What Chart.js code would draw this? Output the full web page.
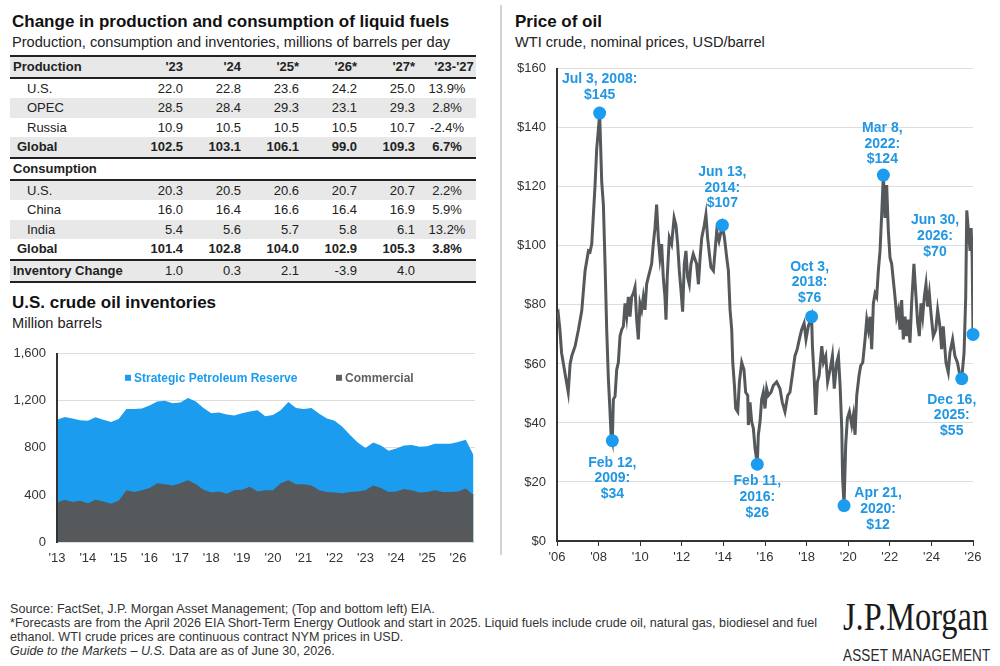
<!DOCTYPE html>
<html>
<head>
<meta charset="utf-8">
<title>Liquid fuels and oil prices</title>
<script src="https://cdn.jsdelivr.net/npm/chart.js@4.4.1/dist/chart.umd.min.js"></script>
<style>
    body { margin: 0; width: 1000px; height: 666px; position: relative; overflow: hidden; background: #fff;
           font-family: "Liberation Sans", Arial, sans-serif; color: #1a1a1a; }
    .abs { position: absolute; white-space: nowrap; }
    .title { font-weight: bold; font-size: 17px; line-height: 17px; color: #111; }
    .sub { font-size: 14.6px; line-height: 15px; color: #222; }
    #fuelTable { position: absolute; left: 10px; top: 55px; width: 466px; font-size: 13px; color: #222;
                 border-top: 2px solid #222; }
    .row { position: relative; height: 19.6px; line-height: 19.6px; }
    .row.gray { background: #e8e8e8; }
    .row.rule { border-bottom: 2px solid #222; }
    .row.bold { font-weight: bold; }
    .row span { position: absolute; top: 0; }
    .row span.lab { font-weight: bold; }
    #divider { position: absolute; left: 500px; top: 5px; width: 1.5px; height: 550px; background: #d3d3d3; }
    #footer { left: 10px; top: 602px; font-size: 12.6px; line-height: 14px; color: #333; }
    #logo1 { left: 843px; top: 597px; font-family: "Liberation Serif", "Times New Roman", serif; font-size: 39px;
             line-height: 40px; color: #1a1a1a; transform: scaleX(0.83); transform-origin: left top; }
    #logo2 { left: 843px; top: 648px; font-size: 16px; line-height: 16px; color: #2a2a2a; letter-spacing: 0.2px;
             transform: scaleX(0.845); transform-origin: left top; }
</style>
</head>
<body>

<div class="abs title" style="left:12px; top:13px;">Change in production and consumption of liquid fuels</div>
<div class="abs sub" style="left:12px; top:35px;">Production, consumption and inventories, millions of barrels per day</div>
<div id="fuelTable"></div>

<div class="abs title" style="left:12px; top:294px;">U.S. crude oil inventories</div>
<div class="abs sub" style="left:12px; top:316px;">Million barrels</div>
<canvas id="invChart" class="abs" width="500" height="240" style="left:0; top:335px;"></canvas>

<div id="divider"></div>

<div class="abs title" style="left:515px; top:13px;">Price of oil</div>
<div class="abs sub" style="left:515px; top:35px;">WTI crude, nominal prices, USD/barrel</div>
<canvas id="oilChart" class="abs" width="490" height="520" style="left:505px; top:50px;"></canvas>

<div id="footer" class="abs">
    Source: FactSet, J.P. Morgan Asset Management; (Top and bottom left) EIA.<br>
    *Forecasts are from the April 2026 EIA Short-Term Energy Outlook and start in 2025. Liquid fuels include crude oil, natural gas, biodiesel and fuel<br>
    ethanol. WTI crude prices are continuous contract NYM prices in USD.<br>
    <i>Guide to the Markets – U.S.</i> Data are as of June 30, 2026.
</div>
<div id="logo1" class="abs">J.P.Morgan</div>
<div id="logo2" class="abs">ASSET MANAGEMENT</div>

<script>
// ---- table data ----
var tableHeads = ["'23", "'24", "'25*", "'26*", "'27*", "'23-'27"];
var productionRows = [
    ["U.S.", "22.0", "22.8", "23.6", "24.2", "25.0", "13.9%"],
    ["OPEC", "28.5", "28.4", "29.3", "23.1", "29.3", "2.8%"],
    ["Russia", "10.9", "10.5", "10.5", "10.5", "10.7", "-2.4%"]
];
var productionGlobal = ["Global", "102.5", "103.1", "106.1", "99.0", "109.3", "6.7%"];
var consumptionRows = [
    ["U.S.", "20.3", "20.5", "20.6", "20.7", "20.7", "2.2%"],
    ["China", "16.0", "16.4", "16.6", "16.4", "16.9", "5.9%"],
    ["India", "5.4", "5.6", "5.7", "5.8", "6.1", "13.2%"]
];
var consumptionGlobal = ["Global", "101.4", "102.8", "104.0", "102.9", "105.3", "3.8%"];
var inventoryChange = ["Inventory Change", "1.0", "0.3", "2.1", "-3.9", "4.0", ""];

// ---- U.S. crude inventories, million barrels (quarterly reads) ----
var invYears = [2013.00, 2013.25, 2013.50, 2013.75, 2014.00, 2014.25, 2014.50, 2014.75,
    2015.00, 2015.25, 2015.50, 2015.75, 2016.00, 2016.25, 2016.50, 2016.75,
    2017.00, 2017.25, 2017.50, 2017.75, 2018.00, 2018.25, 2018.50, 2018.75,
    2019.00, 2019.25, 2019.50, 2019.75, 2020.00, 2020.25, 2020.50, 2020.75,
    2021.00, 2021.25, 2021.50, 2021.75, 2022.00, 2022.25, 2022.50, 2022.75,
    2023.00, 2023.25, 2023.50, 2023.75, 2024.00, 2024.25, 2024.50, 2024.75,
    2025.00, 2025.25, 2025.50, 2025.75, 2026.00, 2026.25, 2026.50];
var totalStocks = [1040, 1062, 1050, 1035, 1030, 1060, 1040, 1020,
    1045, 1130, 1130, 1135, 1160, 1195, 1200, 1180,
    1185, 1225, 1195, 1140, 1095, 1100, 1085, 1075,
    1095, 1110, 1120, 1070, 1080, 1120, 1190, 1140,
    1130, 1140, 1090, 1050, 1030, 980, 910, 845,
    800, 845, 820, 775, 795, 820, 825, 810,
    815, 835, 835, 835, 850, 870, 740];
var commercialStocks = [335, 360, 340, 350, 330, 360, 345, 325,
    350, 440, 425, 440, 460, 500, 490, 480,
    500, 525, 490, 445, 420, 430, 410, 440,
    445, 470, 430, 440, 440, 500, 525, 490,
    490, 480, 440, 425, 420, 415, 425, 430,
    440, 480, 460, 425, 430, 450, 440, 420,
    425, 440, 425, 425, 430, 455, 400];
var invTickYears = [2013, 2014, 2015, 2016, 2017, 2018, 2019, 2020, 2021, 2022, 2023, 2024, 2025, 2026];
var invTickValues = [0, 400, 800, 1200, 1600];

// ---- WTI price, USD/barrel, positions along the chart's year axis ----
var priceX = [2006.00, 2006.06, 2006.14, 2006.22, 2006.38, 2006.54, 2006.63, 2006.71, 2006.87,
    2007.03, 2007.19, 2007.35, 2007.51, 2007.59, 2007.67, 2007.75, 2007.83, 2007.91, 2007.99,
    2008.05, 2008.15, 2008.23, 2008.31, 2008.39, 2008.47, 2008.52, 2008.60, 2008.66, 2008.71,
    2008.79, 2008.87, 2008.95, 2009.03, 2009.11, 2009.19, 2009.27, 2009.35, 2009.43, 2009.51,
    2009.59, 2009.67, 2009.75, 2009.83, 2009.91, 2009.99, 2010.07, 2010.15, 2010.23, 2010.31,
    2010.39, 2010.47, 2010.55, 2010.63, 2010.71, 2010.79, 2010.87, 2010.95, 2011.03, 2011.11,
    2011.19, 2011.24, 2011.30, 2011.40, 2011.51, 2011.63, 2011.72, 2011.80, 2011.88, 2011.96,
    2012.04, 2012.12, 2012.20, 2012.28, 2012.36, 2012.44, 2012.55, 2012.71, 2012.80, 2012.88,
    2012.96, 2013.08, 2013.16, 2013.24, 2013.31, 2013.40, 2013.52, 2013.60, 2013.68, 2013.79,
    2013.95, 2014.05, 2014.16, 2014.24, 2014.32, 2014.40, 2014.45, 2014.53, 2014.59, 2014.69,
    2014.77, 2014.88, 2014.99, 2015.07, 2015.17, 2015.20, 2015.28, 2015.36, 2015.44, 2015.52,
    2015.63, 2015.68, 2015.76, 2015.84, 2015.92, 2016.00, 2016.08, 2016.16, 2016.29, 2016.40,
    2016.56, 2016.72, 2016.83, 2016.96, 2017.09, 2017.20, 2017.33, 2017.44, 2017.55, 2017.65,
    2017.76, 2017.88, 2017.97, 2018.08, 2018.24, 2018.28, 2018.36, 2018.44, 2018.52, 2018.60,
    2018.73, 2018.81, 2018.92, 2019.01, 2019.13, 2019.24, 2019.33, 2019.45, 2019.53, 2019.61,
    2019.69, 2019.73, 2019.80, 2019.88, 2019.96, 2020.06, 2020.17, 2020.25, 2020.33, 2020.41,
    2020.52, 2020.60, 2020.70, 2020.81, 2020.89, 2020.97, 2021.05, 2021.13, 2021.21, 2021.29,
    2021.37, 2021.45, 2021.53, 2021.61, 2021.69, 2021.77, 2021.85, 2021.93, 2022.01, 2022.09,
    2022.17, 2022.25, 2022.33, 2022.41, 2022.49, 2022.57, 2022.65, 2022.73, 2022.81, 2022.89,
    2022.97, 2023.05, 2023.16, 2023.26, 2023.34, 2023.42, 2023.50, 2023.58, 2023.66, 2023.74,
    2023.82, 2023.90, 2023.98, 2024.09, 2024.21, 2024.30, 2024.41, 2024.49, 2024.57, 2024.70,
    2024.81, 2024.89, 2025.02, 2025.13, 2025.25, 2025.34, 2025.46, 2025.57, 2025.65, 2025.70,
    2025.78, 2025.86, 2025.91, 2025.96, 2026.00];
var priceY = [76, 77, 71.6, 63.8, 57, 50.4, 60, 62.7, 66,
    71.6, 78, 91.6, 98.3, 98, 100.6, 110.6, 120.6, 133, 139.5,
    145, 121.7, 114, 93.9, 71.6, 55, 48, 36, 34, 48,
    49, 58, 60.5, 69.4, 71.6, 72.7, 80.5, 76, 82.7, 76,
    82.7, 83.9, 86, 75, 68.3, 80.5, 78.3, 82.7, 78.3, 87,
    89.4, 91.6, 93.9, 100.6, 106, 114, 102.8, 96, 100.6, 89.4,
    82.7, 75, 89.4, 102.8, 100.6, 109.5, 107, 100.6, 91.6, 85,
    77.7, 93.9, 98.3, 89.4, 87, 93.9, 97.2, 93.9, 87, 96,
    102.8, 107, 110.6, 102.8, 98.3, 92.8, 91.6, 98.3, 105, 101.7,
    107, 102.8, 96, 91.6, 78.3, 71.6, 60.5, 52.7, 44.9, 43.8,
    53.9, 60.5, 58, 50.4, 49.3, 39.3, 47, 40.4, 38.2, 31.5,
    26, 36, 40.4, 48, 50.4, 44.9, 51.6, 49.3, 50.4, 52.7,
    53.9, 51.6, 47, 43.8, 49.3, 50.4, 57, 62.7, 65, 68.3,
    71.6, 73.8, 68.3, 72.7, 76, 66, 56, 42.7, 53.9, 56,
    66, 60.5, 62.7, 53.9, 58, 62.7, 51.6, 60.5, 62.7, 52.7,
    38.2, 21.5, 12, 32.6, 41.5, 43.8, 39.3, 42.7, 36, 49.3,
    56, 59.4, 60.5, 68.3, 75, 71.6, 76, 65, 80.5, 83.9,
    82.7, 91.6, 98.3, 110.6, 124, 109.5, 120.6, 105, 96, 93.9,
    88.3, 82.7, 76, 78.3, 71.6, 81.6, 68.3, 76, 69.4, 75,
    67.2, 80.5, 93.9, 82.7, 73.8, 69.4, 80.5, 76, 82.7, 87,
    79.4, 83.9, 77.2, 69.4, 71.6, 78.3, 72.7, 65, 72.7, 60.5,
    57.2, 63.8, 68.3, 62.7, 60.5, 57.2, 55, 63.8, 82.7, 112,
    105, 98.3, 106, 96, 70];
var priceTickYears = [2006, 2008, 2010, 2012, 2014, 2016, 2018, 2020, 2022, 2024, 2026];

// highlighted points
var annoX = [2008.05, 2008.66, 2013.95, 2015.63, 2018.24, 2019.80, 2021.69, 2025.46, 2026.00];
var annoY = [145, 34, 107, 26, 76, 12, 124, 55, 70];
var annoText = [
    ["Jul 3, 2008:", "$145"],
    ["Feb 12,", "2009:", "$34"],
    ["Jun 13,", "2014:", "$107"],
    ["Feb 11,", "2016:", "$26"],
    ["Oct 3,", "2018:", "$76"],
    ["Apr 21,", "2020:", "$12"],
    ["Mar 8,", "2022:", "$124"],
    ["Dec 16,", "2025:", "$55"],
    ["Jun 30,", "2026:", "$70"]
];

var FONT = '"Liberation Sans", Arial, sans-serif';
var BLUE = "#1b9cef";
var GRAY = "#55595b";
Chart.defaults.font.family = FONT;
Chart.defaults.color = "#333";

// ---- build the table ----
var table = document.getElementById("fuelTable");
var valueRight = [173, 231, 289, 347, 405];

function addRow(cells, indent, cls, isHead) {
    var row = document.createElement("div");
    row.className = "row " + (cls || "");
    var lab = document.createElement("span");
    lab.textContent = cells[0];
    lab.style.left = indent + "px";
    if (indent === 3) lab.className = "lab";
    row.appendChild(lab);
    for (var i = 1; i < cells.length; i++) {
        var s = document.createElement("span");
        s.textContent = cells[i];
        if (i <= 5) {
            s.style.right = (466 - valueRight[i - 1]) + "px";
        } else {
            s.style.left = (isHead ? 419 : 412) + "px";
            s.style.width = "50px";
            s.style.textAlign = "center";
        }
        row.appendChild(s);
    }
    table.appendChild(row);
}

addRow(["Production"].concat(tableHeads), 3, "gray bold rule", true);
productionRows.forEach(function (r, i) { addRow(r, 17, i % 2 ? "gray" : ""); });
addRow(productionGlobal, 7, "gray bold rule");
addRow(["Consumption"], 3, "bold rule");
consumptionRows.forEach(function (r, i) { addRow(r, 17, i % 2 ? "" : "gray"); });
addRow(consumptionGlobal, 7, "bold rule");
addRow(inventoryChange, 3, "gray rule");

// ---- inventories chart ----
var invLegend = {
    id: "invLegend",
    afterDatasetsDraw: function (chart) {
        var ctx = chart.ctx, a = chart.chartArea;
        var items = [
            { text: "Strategic Petroleum Reserve", color: BLUE, dx: 68 },
            { text: "Commercial", color: "#5d6163", dx: 279 }
        ];
        ctx.save();
        // keep the y axis line above the filled areas
        ctx.strokeStyle = "#333";
        ctx.lineWidth = 2;
        ctx.beginPath();
        ctx.moveTo(a.left, a.top);
        ctx.lineTo(a.left, a.bottom);
        ctx.stroke();
        ctx.font = "bold 12px " + FONT;
        ctx.textBaseline = "middle";
        items.forEach(function (it) {
            ctx.fillStyle = it.color;
            ctx.fillRect(a.left + it.dx, a.top + 21, 6, 6);
            ctx.fillText(it.text, a.left + it.dx + 9, a.top + 24.5);
        });
        ctx.restore();
    }
};

new Chart(document.getElementById("invChart").getContext("2d"), {
    type: "line",
    data: {
        datasets: [
            {
                label: "Commercial",
                data: invYears.map(function (x, i) { return { x: x, y: commercialStocks[i] }; }),
                backgroundColor: GRAY,
                borderWidth: 0,
                pointRadius: 0,
                fill: "origin",
                order: 0
            },
            {
                label: "Strategic Petroleum Reserve",
                data: invYears.map(function (x, i) { return { x: x, y: totalStocks[i] }; }),
                backgroundColor: BLUE,
                borderWidth: 0,
                pointRadius: 0,
                fill: "origin",
                order: 1
            }
        ]
    },
    options: {
        responsive: false,
        animation: false,
        layout: { padding: { top: 8, right: 25, left: 0, bottom: 0 } },
        plugins: { legend: { display: false }, tooltip: { enabled: false } },
        scales: {
            x: {
                type: "linear",
                min: 2013,
                max: 2026.55,
                grid: { display: false, drawTicks: false },
                border: { display: false },
                afterBuildTicks: function (s) { s.ticks = invTickYears.map(function (v) { return { value: v }; }); },
                afterFit: function (s) { s.height = 33; },
                ticks: {
                    autoSkip: false,
                    maxRotation: 0,
                    padding: 9,
                    font: { size: 13 },
                    callback: function (v) { return "'" + String(v).slice(2); }
                }
            },
            y: {
                min: 0,
                max: 1600,
                afterBuildTicks: function (s) { s.ticks = invTickValues.map(function (v) { return { value: v }; }); },
                afterFit: function (s) { s.width = 57; },
                grid: { color: "#dddddd", drawTicks: false },
                border: { display: true, color: "#333", width: 2 },
                ticks: {
                    padding: 11,
                    font: { size: 13 },
                    callback: function (v) { return v.toLocaleString("en-US"); }
                }
            }
        }
    },
    plugins: [invLegend]
});

// ---- oil price chart ----
var labelShift = [[0, -34], [0, 22], [0, -53], [0, 17], [-2, -50], [34, -12], [-1, -47], [-10, 21], [-38, -114]];

var priceLabels = {
    id: "priceLabels",
    afterDatasetsDraw: function (chart) {
        var ctx = chart.ctx, xs = chart.scales.x, ys = chart.scales.y;
        ctx.save();
        ctx.font = "bold 14px " + FONT;
        ctx.fillStyle = "#2197e3";
        ctx.textAlign = "center";
        ctx.textBaseline = "middle";
        annoText.forEach(function (lines, i) {
            var px = xs.getPixelForValue(annoX[i]) + labelShift[i][0];
            var py = ys.getPixelForValue(annoY[i]) + labelShift[i][1];
            lines.forEach(function (t, j) { ctx.fillText(t, px, py + j * 15.7); });
        });
        ctx.restore();
    }
};

new Chart(document.getElementById("oilChart").getContext("2d"), {
    type: "line",
    data: {
        datasets: [
            {
                type: "scatter",
                label: "Highlights",
                data: annoX.map(function (x, i) { return { x: x, y: annoY[i] }; }),
                backgroundColor: BLUE,
                borderWidth: 0,
                pointRadius: 6.5,
                clip: false,
                order: 0
            },
            {
                label: "WTI",
                data: priceX.map(function (x, i) { return { x: x, y: priceY[i] }; }),
                borderColor: GRAY,
                borderWidth: 3,
                borderJoinStyle: "miter",
                pointRadius: 0,
                tension: 0,
                fill: false,
                order: 1
            }
        ]
    },
    options: {
        responsive: false,
        animation: false,
        layout: { padding: { top: 12, right: 22, left: 0, bottom: 0 } },
        plugins: { legend: { display: false }, tooltip: { enabled: false } },
        scales: {
            x: {
                type: "linear",
                min: 2006,
                max: 2026,
                grid: { drawOnChartArea: false, drawTicks: true, tickLength: 5, color: "#333" },
                border: { display: true, color: "#333", width: 2 },
                afterBuildTicks: function (s) { s.ticks = priceTickYears.map(function (v) { return { value: v }; }); },
                afterFit: function (s) { s.height = 29; },
                ticks: {
                    autoSkip: false,
                    maxRotation: 0,
                    padding: 4,
                    font: { size: 13 },
                    callback: function (v) { return "'" + String(v).slice(2); }
                }
            },
            y: {
                min: 0,
                max: 160,
                ticks: {
                    stepSize: 20,
                    padding: 11,
                    font: { size: 13 },
                    callback: function (v) { return "$" + v; }
                },
                afterFit: function (s) { s.width = 52; },
                grid: { color: "#dddddd", drawTicks: false },
                border: { display: true, color: "#333", width: 2 }
            }
        }
    },
    plugins: [priceLabels]
});
</script>
</body>
</html>
